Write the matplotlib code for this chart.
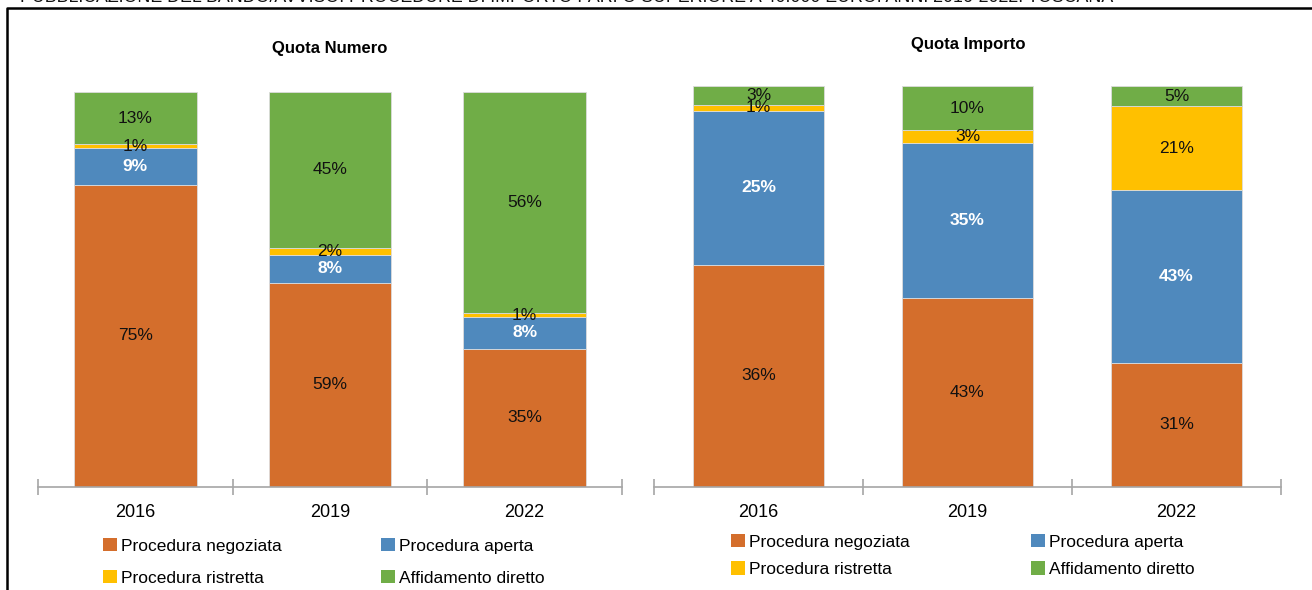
import matplotlib.pyplot as plt
from matplotlib.patches import Patch
from matplotlib.lines import Line2D
import numpy as np

# labels shown on the chart; bars are drawn as shares of each year's total
anni = ["2016", "2019", "2022"]
procedure = ["Procedura negoziata", "Procedura aperta", "Procedura ristretta", "Affidamento diretto"]
colori = ["#D46E2C", "#4F89BD", "#FFC000", "#70AD47"]

numero = {
    "Procedura negoziata": [75, 59, 35],
    "Procedura aperta": [9, 8, 8],
    "Procedura ristretta": [1, 2, 1],
    "Affidamento diretto": [13, 45, 56],
}
importo = {
    "Procedura negoziata": [36, 43, 31],
    "Procedura aperta": [25, 35, 43],
    "Procedura ristretta": [1, 3, 21],
    "Affidamento diretto": [3, 10, 5],
}

FONT = ["Liberation Sans Narrow", "Liberation Sans", "DejaVu Sans"]
plt.rcParams['font.family'] = FONT

W, H = 1312, 590
fig = plt.figure(figsize=(W / 100, H / 100), dpi=100)


def px(x0, y0, x1, y1):
    # pixel box (top-left origin) -> figure fraction rect
    return [x0 / W, 1 - y1 / H, (x1 - x0) / W, (y1 - y0) / H]


def stacked(ax, dati):
    tot = np.sum([dati[p] for p in procedure], axis=0)
    base = np.zeros(len(anni))
    x = np.arange(len(anni))
    for p, c in zip(procedure, colori):
        v = np.array(dati[p], dtype=float)
        quota = v / tot * 100
        ax.bar(x, quota, 0.63, bottom=base, color=c, edgecolor="#dcdcdc", linewidth=0.6)
        for i in range(len(anni)):
            yc = base[i] + quota[i] / 2
            if p == "Procedura aperta":
                ax.text(x[i], yc, f"{v[i]:.0f}%", ha="center", va="center",
                        fontsize=12.5, color="white", fontweight="bold")
            else:
                ax.text(x[i], yc, f"{v[i]:.0f}%", ha="center", va="center",
                        fontsize=12.5, color="#111111")
        base += quota
    ax.set_xlim(-0.5, len(anni) - 0.5)
    ax.set_ylim(0, 100)
    ax.margins(0)
    for s in ["top", "left", "right"]:
        ax.spines[s].set_visible(False)
    ax.spines["bottom"].set_color("#a6a6a6")
    ax.spines["bottom"].set_linewidth(1.2)
    ax.set_yticks([])
    ax.set_xticks(np.arange(len(anni) + 1) - 0.5)
    ax.set_xticklabels([])
    ax.tick_params(axis="x", which="major", direction="inout", length=12,
                   color="#a6a6a6", width=1.2)
    ax.set_xticks(x, minor=True)
    ax.set_xticklabels(anni, minor=True, fontsize=13)
    ax.tick_params(axis="x", which="minor", length=0, pad=12)


ax1 = fig.add_axes(px(38, 92, 622, 487))
stacked(ax1, numero)
ax2 = fig.add_axes(px(654, 86, 1281, 487))
stacked(ax2, importo)

fig.text(330 / W, 1 - 48 / H, "Quota Numero", ha="center", va="center",
         fontsize=12, fontweight="bold", family=["Liberation Sans", "DejaVu Sans"])
fig.text(968 / W, 1 - 44 / H, "Quota Importo", ha="center", va="center",
         fontsize=12, fontweight="bold", family=["Liberation Sans", "DejaVu Sans"])

# clipped heading on top
fig.text(20 / W, 1 + 2 / H, "PUBBLICAZIONE DEL BANDO/AVVISO. PROCEDURE DI IMPORTO PARI O SUPERIORE A 40.000 EURO. ANNI 2016-2022. TOSCANA",
         ha="left", va="center", fontsize=12.8, color="#111111")

# frame
fig.add_artist(Line2D([7 / W, 7 / W, 1], [0, 1 - 8 / H, 1 - 8 / H],
                      transform=fig.transFigure, color="black", linewidth=1.8))

handles = [Patch(facecolor=c, edgecolor="none") for c in colori]


def legenda(x1, x2, ytop, spacing):
    cols = [[0, 2], [1, 3]]
    for xs, idx in zip([x1, x2], cols):
        fig.legend([handles[i] for i in idx], [procedure[i] for i in idx],
                   loc="upper left", bbox_to_anchor=(xs / W, 1 - ytop / H),
                   frameon=False, fontsize=12.5, handlelength=0.8, handleheight=0.8,
                   handletextpad=0.25, borderpad=0, borderaxespad=0,
                   labelspacing=spacing)


legenda(103, 381, 538, 0.95)
legenda(731, 1031, 534, 0.68)

fig.savefig("out.png", dpi=100)
